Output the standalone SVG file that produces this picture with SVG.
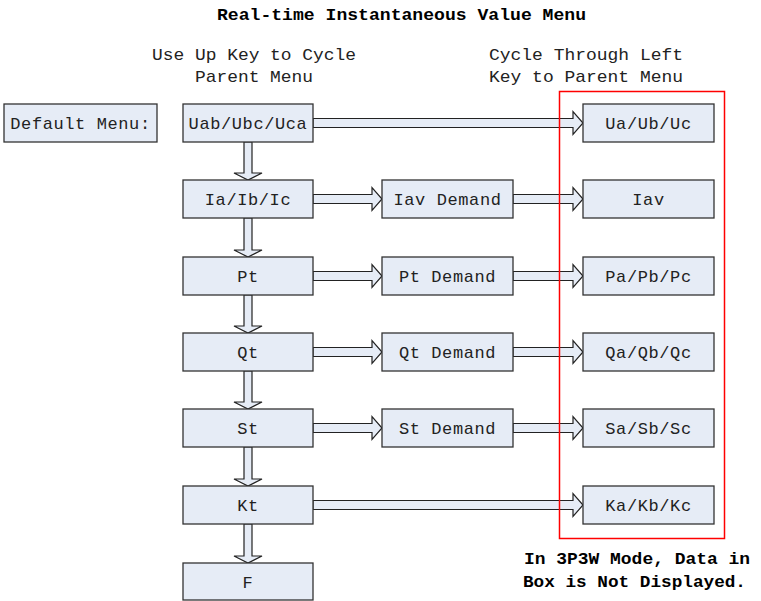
<svg xmlns="http://www.w3.org/2000/svg" width="761" height="601" viewBox="0 0 761 601">
<style>
.box{fill:#e6ecf6;stroke:#333;stroke-width:1.3}
.arr{fill:#e6ecf6;stroke:#222;stroke-width:1.2;stroke-linejoin:miter}
.t{font-family:"Liberation Mono",monospace;font-size:17px;letter-spacing:0.6px;fill:#222;text-anchor:middle}
.h{font-family:"Liberation Mono",monospace;font-size:17px;fill:#222}
.b{font-family:"Liberation Mono",monospace;font-size:16px;font-weight:bold;fill:#000}
</style>
<rect width="761" height="601" fill="#fff"/>
<text class="b" x="217" y="20" textLength="369" lengthAdjust="spacingAndGlyphs">Real-time Instantaneous Value Menu</text>
<text class="h" x="152" y="60" textLength="204" lengthAdjust="spacingAndGlyphs">Use Up Key to Cycle</text>
<text class="h" x="195" y="82" textLength="118" lengthAdjust="spacingAndGlyphs">Parent Menu</text>
<text class="h" x="489" y="60" textLength="194" lengthAdjust="spacingAndGlyphs">Cycle Through Left</text>
<text class="h" x="489" y="82" textLength="194" lengthAdjust="spacingAndGlyphs">Key to Parent Menu</text>
<g id="connectors">
<polygon class="arr" points="244,142 252,142 252,173 262,173 248,180 234,173 244,173"/>
<polygon class="arr" points="244,218 252,218 252,250 262,250 248,257 234,250 244,250"/>
<polygon class="arr" points="244,295 252,295 252,326 262,326 248,333 234,326 244,326"/>
<polygon class="arr" points="244,371 252,371 252,402 262,402 248,409 234,402 244,402"/>
<polygon class="arr" points="244,447 252,447 252,479 262,479 248,486 234,479 244,479"/>
<polygon class="arr" points="244,524 252,524 252,556 262,556 248,563 234,556 244,556"/>
<polygon class="arr" points="313,118.5 573,118.5 573,111.5 583,123 573,134.5 573,127.5 313,127.5"/>
<polygon class="arr" points="313,194.5 372,194.5 372,187.5 382,199 372,210.5 372,203.5 313,203.5"/>
<polygon class="arr" points="513,194.5 573,194.5 573,187.5 583,199 573,210.5 573,203.5 513,203.5"/>
<polygon class="arr" points="313,271.5 372,271.5 372,264.5 382,276 372,287.5 372,280.5 313,280.5"/>
<polygon class="arr" points="513,271.5 573,271.5 573,264.5 583,276 573,287.5 573,280.5 513,280.5"/>
<polygon class="arr" points="313,347.5 372,347.5 372,340.5 382,352 372,363.5 372,356.5 313,356.5"/>
<polygon class="arr" points="513,347.5 573,347.5 573,340.5 583,352 573,363.5 573,356.5 513,356.5"/>
<polygon class="arr" points="313,423.5 372,423.5 372,416.5 382,428 372,439.5 372,432.5 313,432.5"/>
<polygon class="arr" points="513,423.5 573,423.5 573,416.5 583,428 573,439.5 573,432.5 513,432.5"/>
<polygon class="arr" points="313,500.5 573,500.5 573,493.5 583,505 573,516.5 573,509.5 313,509.5"/>
</g>
<g id="default"><rect class="box" x="4" y="104" width="153" height="38"/><text class="t" x="80.5" y="128.5">Default Menu:</text></g>
<g id="uab"><rect class="box" x="183" y="104" width="130" height="38"/><text class="t" x="248" y="128.5">Uab/Ubc/Uca</text></g>
<g id="iabc"><rect class="box" x="183" y="180" width="130" height="38"/><text class="t" x="248" y="204.5">Ia/Ib/Ic</text></g>
<g id="pt"><rect class="box" x="183" y="257" width="130" height="38"/><text class="t" x="248" y="281.5">Pt</text></g>
<g id="qt"><rect class="box" x="183" y="333" width="130" height="38"/><text class="t" x="248" y="357.5">Qt</text></g>
<g id="st"><rect class="box" x="183" y="409" width="130" height="38"/><text class="t" x="248" y="433.5">St</text></g>
<g id="kt"><rect class="box" x="183" y="486" width="130" height="38"/><text class="t" x="248" y="510.5">Kt</text></g>
<g id="f"><rect class="box" x="183" y="563" width="130" height="37"/><text class="t" x="248" y="587.5">F</text></g>
<g id="iavd"><rect class="box" x="382" y="180" width="131" height="38"/><text class="t" x="447.5" y="204.5">Iav Demand</text></g>
<g id="ptd"><rect class="box" x="382" y="257" width="131" height="38"/><text class="t" x="447.5" y="281.5">Pt Demand</text></g>
<g id="qtd"><rect class="box" x="382" y="333" width="131" height="38"/><text class="t" x="447.5" y="357.5">Qt Demand</text></g>
<g id="std"><rect class="box" x="382" y="409" width="131" height="38"/><text class="t" x="447.5" y="433.5">St Demand</text></g>
<g id="uabc"><rect class="box" x="583" y="104" width="131" height="38"/><text class="t" x="648.5" y="128.5">Ua/Ub/Uc</text></g>
<g id="iav"><rect class="box" x="583" y="180" width="131" height="38"/><text class="t" x="648.5" y="204.5">Iav</text></g>
<g id="pabc"><rect class="box" x="583" y="257" width="131" height="38"/><text class="t" x="648.5" y="281.5">Pa/Pb/Pc</text></g>
<g id="qabc"><rect class="box" x="583" y="333" width="131" height="38"/><text class="t" x="648.5" y="357.5">Qa/Qb/Qc</text></g>
<g id="sabc"><rect class="box" x="583" y="409" width="131" height="38"/><text class="t" x="648.5" y="433.5">Sa/Sb/Sc</text></g>
<g id="kabc"><rect class="box" x="583" y="486" width="131" height="38"/><text class="t" x="648.5" y="510.5">Ka/Kb/Kc</text></g>
<rect id="redbox" x="559.5" y="91.5" width="165" height="447" fill="none" stroke="#f00" stroke-width="1.5"/>
<text class="b" x="524" y="564" textLength="226" lengthAdjust="spacingAndGlyphs">In 3P3W Mode, Data in</text>
<text class="b" x="523" y="587" textLength="223" lengthAdjust="spacingAndGlyphs">Box is Not Displayed.</text>
</svg>
